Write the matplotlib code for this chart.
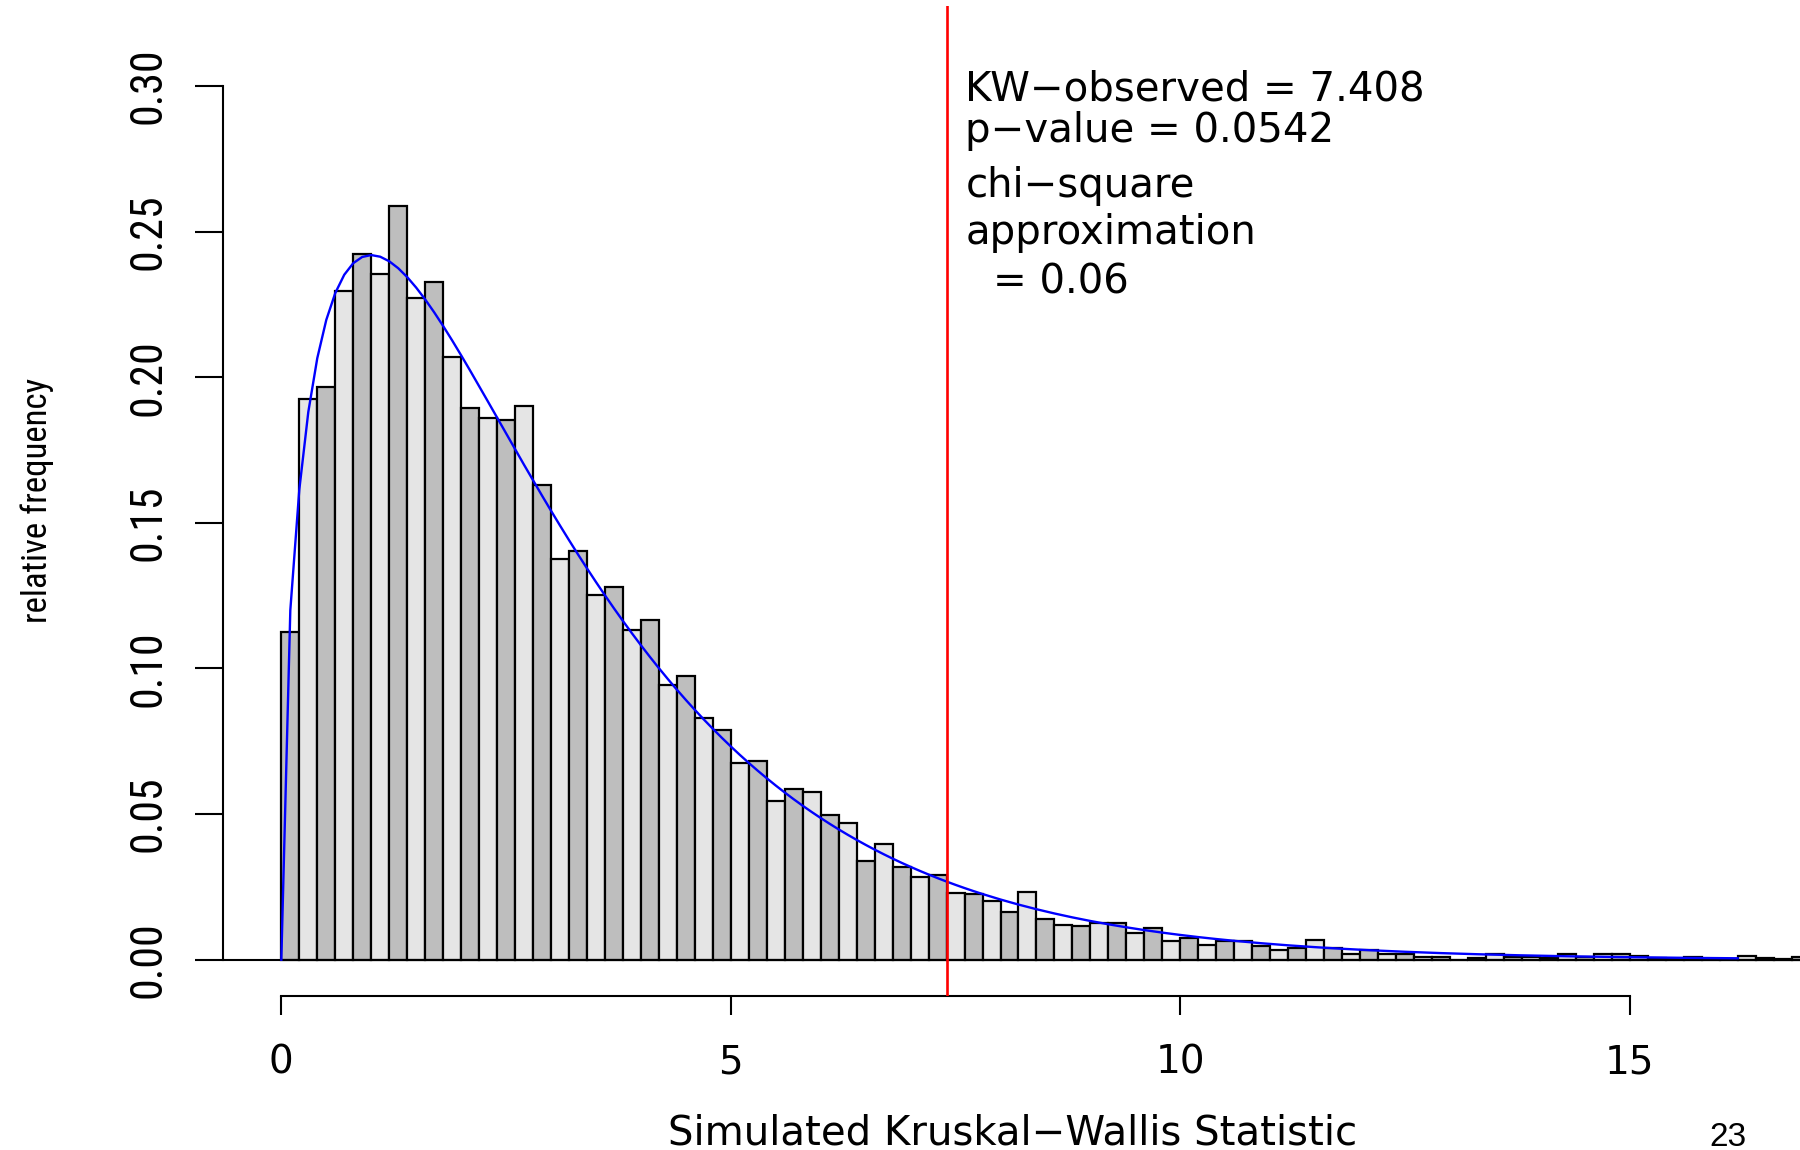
import math
import numpy as np
import matplotlib
matplotlib.use("Agg")
import matplotlib.pyplot as plt
from matplotlib import font_manager
from matplotlib.textpath import TextPath

# ---------------- data ----------------
bin_width = 0.2
rel_freq = [
    0.1125, 0.1925, 0.1966, 0.2297, 0.2424, 0.2353, 0.2587, 0.2272, 0.2326, 0.2071,
    0.1896, 0.1859, 0.1852, 0.1903, 0.1631, 0.1376, 0.1402, 0.1252, 0.1281, 0.1131,
    0.1166, 0.0944, 0.0974, 0.0830, 0.0789, 0.0674, 0.0683, 0.0545, 0.0587, 0.0575,
    0.0498, 0.0469, 0.0338, 0.0398, 0.0319, 0.0285, 0.0290, 0.0230, 0.0224, 0.0200,
    0.0165, 0.0234, 0.0140, 0.0120, 0.0115, 0.0125, 0.0125, 0.0090, 0.0110, 0.0065,
    0.0075, 0.0050, 0.0065, 0.0065, 0.0048, 0.0034, 0.0040, 0.0066, 0.0040, 0.0019,
    0.0035, 0.0019, 0.0018, 0.0009, 0.0010, 0.0000, 0.0007, 0.0020, 0.0010, 0.0008,
    0.0006, 0.0020, 0.0009, 0.0021, 0.0021, 0.0011, 0.0005, 0.0002, 0.0010, 0.0004,
    0.0004, 0.0011, 0.0007, 0.0001, 0.0010,
]
kw_observed = 7.408
p_value = 0.0542
chi_approx = 0.06
chi_df = 3
curve_max = 16.2

x_ticks = [0, 5, 10, 15]
y_ticks = [0.00, 0.05, 0.10, 0.15, 0.20, 0.25, 0.30]
x_label = "Simulated Kruskal\u2212Wallis Statistic"
y_label = "relative frequency"
page_no = "23"

# ---------------- fonts ----------------
def find_condensed():
    prefs = ["Liberation Sans Narrow", "Roboto Condensed", "Open Sans Condensed",
             "DejaVu Sans Condensed"]
    for name in prefs:
        try:
            path = font_manager.findfont(font_manager.FontProperties(family=name),
                                         fallback_to_default=False)
            return font_manager.FontProperties(fname=path)
        except Exception:
            pass
    for f in font_manager.fontManager.ttflist:
        fn = f.fname.lower()
        if ("condensed" in fn or "narrow" in fn) and not any(
                k in fn for k in ("bold", "oblique", "italic", "light", "mono", "serif")):
            return font_manager.FontProperties(fname=f.fname)
    return None

vprop = find_condensed()
if vprop is None:
    vprop = font_manager.FontProperties(family="Liberation Sans")

def fit_size(text, target_len_px, target_thick_px, prop, s0=20.0):
    ext = TextPath((0, 0), text, size=s0, prop=prop).get_extents()
    w_px = ext.width * 100 / 72
    h_px = ext.height * 100 / 72
    s_len = s0 * target_len_px / w_px
    s_thk = s0 * target_thick_px / h_px
    return math.sqrt(s_len * s_thk)

ytick_size = fit_size("0.30", 66.6, 34.4, vprop)
ylab_size = fit_size("relative frequency", 249.0, 33.0, vprop)

hfam = ["DejaVu Sans"]
hsize = 29

# ---------------- figure ----------------
fig = plt.figure(figsize=(18, 11.5), dpi=100)
ax = fig.add_axes([0.12378, 0.13357, 0.87806, 0.86147])
ax.set_xlim(-0.651, 16.93)
ax.set_ylim(-0.0126, 0.3276)

n = len(rel_freq)
bin_starts = np.arange(n) * bin_width
colors = ["#BEBEBE" if i % 2 == 0 else "#E5E5E5" for i in range(n)]
ax.bar(bin_starts, rel_freq, width=bin_width, align="edge", color=colors,
       edgecolor="black", linewidth=1.6, zorder=2)
ax.axhline(0, color="black", lw=1.5, zorder=3)

# chi-square density (df = 3)
cx = np.arange(0, curve_max + 1e-9, 0.1)
norm = 2 ** (chi_df / 2) * math.gamma(chi_df / 2)
cy = cx ** (chi_df / 2 - 1) * np.exp(-cx / 2) / norm
ax.plot(cx, cy, color="blue", lw=1.7, zorder=4)

ax.axvline(kw_observed, color="red", lw=1.9, zorder=5)

# axes styling (R-like)
for s in ("top", "right"):
    ax.spines[s].set_visible(False)
ax.spines["left"].set_bounds(0, 0.30)
ax.spines["bottom"].set_bounds(0, 15)
ax.spines["left"].set_linewidth(1.5)
ax.spines["bottom"].set_linewidth(1.5)

ax.set_xticks(x_ticks)
ax.set_xticklabels([str(t) for t in x_ticks], fontsize=28, fontfamily=hfam)
ax.set_yticks(y_ticks)
ax.set_yticklabels([f"{t:.2f}" for t in y_ticks], rotation=90, va="center",
                   fontproperties=vprop, fontsize=ytick_size)
em_px = ytick_size * 100 / 72
ypad_px = max(4.0, 34.4 - 0.21 * em_px)
ax.tick_params(axis="y", length=19.9, width=1.5, pad=ypad_px * 72 / 100,
               direction="out")
ax.tick_params(axis="x", length=13.7, width=1.5, pad=20.2, direction="out")

# annotations
ax.text(7.61, 0.29495, f"KW\u2212observed = {kw_observed}", fontsize=hsize,
        fontfamily=hfam, ha="left", va="baseline")
ax.text(7.61, 0.28076, f"p\u2212value = {p_value}", fontsize=hsize,
        fontfamily=hfam, ha="left", va="baseline")
ax.text(7.61, 0.26183, "chi\u2212square", fontsize=hsize,
        fontfamily=hfam, ha="left", va="baseline")
ax.text(7.61, 0.24566, "approximation", fontsize=hsize,
        fontfamily=hfam, ha="left", va="baseline")
ax.text(7.92, 0.22871, f"= {chi_approx}", fontsize=hsize,
        fontfamily=hfam, ha="left", va="baseline")

# axis titles
fig.text(36.7 / 1800, 1 - 500.5 / 1150, y_label, rotation=90, ha="center",
         va="center", fontproperties=vprop, fontsize=ylab_size)
fig.text(1013 / 1800, 1 - 1144.6 / 1150, x_label, ha="center", va="baseline",
         fontsize=hsize, fontfamily=hfam)
fig.text(1727.7 / 1800, 1 - 1146.0 / 1150, page_no, ha="center", va="baseline",
         fontsize=24, fontfamily=["Liberation Sans", "DejaVu Sans"])

fig.savefig("out.png", dpi=100)
